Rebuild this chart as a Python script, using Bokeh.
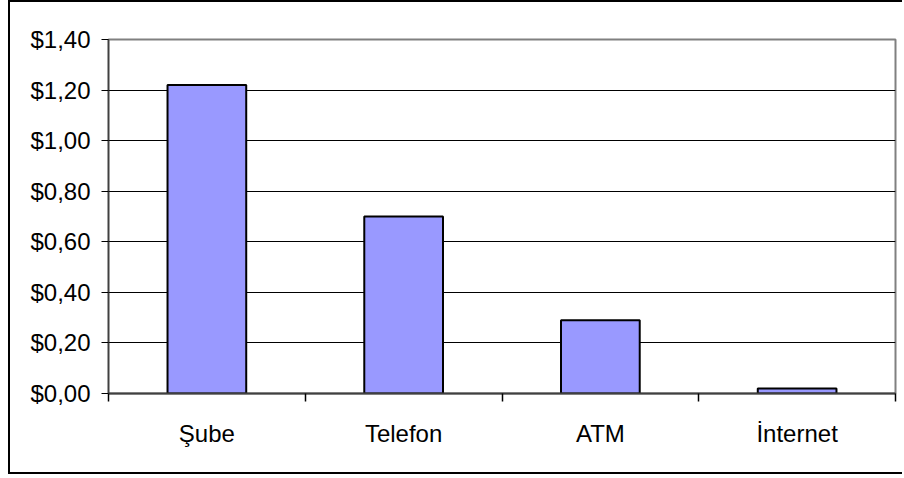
from bokeh.plotting import figure
from bokeh.models import Range1d, FixedTicker, ColumnDataSource
from bokeh.embed import file_html
from bokeh.resources import INLINE

# Cost per transaction by channel
categories = ["Şube", "Telefon", "ATM", "İnternet"]
costs = [1.22, 0.70, 0.29, 0.02]

# Value axis ticks and their currency labels
y_ticks = [0.0, 0.2, 0.4, 0.6, 0.8, 1.0, 1.2, 1.4]
y_tick_labels = ["$0,00", "$0,20", "$0,40", "$0,60", "$0,80", "$1,00", "$1,20", "$1,40"]

FONT = "Liberation Sans"

positions = [i + 0.5 for i in range(len(categories))]
source = ColumnDataSource(data=dict(x=positions, cost=costs, name=categories))

p = figure(
    width=894, height=474,
    x_range=Range1d(0, len(categories)),
    y_range=Range1d(y_ticks[0], y_ticks[-1]),
    output_backend="svg", toolbar_location=None,
    min_border_left=98, min_border_right=9,
    min_border_top=37, min_border_bottom=83,
    background_fill_color="white", border_fill_color="white",
)
# chart area border (left, top, bottom; right edge runs off the page)
p.margin = (0, 0, 0, 8)
p.styles = {
    "border-left": "2px solid black",
    "border-top": "2px solid black",
    "border-bottom": "2px solid black",
}

p.vbar(x="x", top="cost", width=0.4, source=source,
       fill_color="#9999FF", line_color="black", line_width=2)

# plot area frame
p.outline_line_color = "#808080"
p.outline_line_width = 2

# horizontal gridlines (interior only)
p.xgrid.visible = False
p.ygrid.ticker = FixedTicker(ticks=y_ticks[1:-1])
p.ygrid.grid_line_color = "black"
p.ygrid.grid_line_width = 1

# y axis
p.yaxis.ticker = FixedTicker(ticks=y_ticks)
p.yaxis.major_label_overrides = {t: lab for t, lab in zip(y_ticks, y_tick_labels)}
p.yaxis.axis_line_color = "#404040"
p.yaxis.axis_line_width = 1.5
p.yaxis.major_tick_line_color = "black"
p.yaxis.major_tick_in = 0
p.yaxis.major_tick_out = 7
p.yaxis.minor_tick_line_color = None
p.yaxis.major_label_standoff = 11
p.yaxis.major_label_text_font = FONT
p.yaxis.major_label_text_font_size = "24px"
p.yaxis.major_label_text_color = "black"

# x axis: category names at centers, tick marks at the category boundaries
p.xaxis.ticker = FixedTicker(ticks=positions, minor_ticks=list(range(len(categories) + 1)))
p.xaxis.major_label_overrides = {x: c for x, c in zip(positions, categories)}
p.xaxis.axis_line_color = "#404040"
p.xaxis.axis_line_width = 2
p.xaxis.major_tick_line_color = None
p.xaxis.major_tick_in = 0
p.xaxis.major_tick_out = 0
p.xaxis.minor_tick_line_color = "black"
p.xaxis.minor_tick_line_width = 1.5
p.xaxis.minor_tick_in = 0
p.xaxis.minor_tick_out = 8
p.xaxis.major_label_standoff = 18
p.xaxis.major_label_text_font = FONT
p.xaxis.major_label_text_font_size = "24px"
p.xaxis.major_label_text_color = "black"

open("out.html", "w").write(file_html(p, INLINE))
